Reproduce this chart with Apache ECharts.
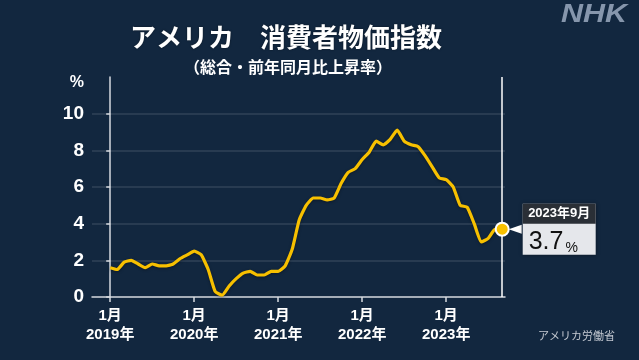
<!DOCTYPE html>
<html>
<head>
<meta charset="utf-8">
<script src="https://cdn.jsdelivr.net/npm/echarts@6/dist/echarts.min.js"></script>
<style>
html,body{margin:0;padding:0;background:#12273f;}
#c{width:639px;height:360px;}
</style>
</head>
<body>
<div id="c"></div>
<script>
// Year labels for January ticks
const years = ['2019年', '2020年', '2021年', '2022年', '2023年'];
const tickMonthLabel = '1月';
// US CPI, all items, year-over-year % (Jan 2019 .. Sep 2023), month index 0..56
const cpi2019 = [1.6, 1.5, 1.9, 2.0, 1.8, 1.6, 1.8, 1.7, 1.7, 1.8, 2.1, 2.3];
const cpi2020 = [2.5, 2.3, 1.5, 0.3, 0.1, 0.6, 1.0, 1.3, 1.4, 1.2, 1.2, 1.4];
const cpi2021 = [1.4, 1.7, 2.6, 4.2, 5.0, 5.4, 5.4, 5.3, 5.4, 6.2, 6.8, 7.0];
const cpi2022 = [7.5, 7.9, 8.5, 8.3, 8.6, 9.1, 8.5, 8.3, 8.2, 7.7, 7.1, 6.5];
const cpi2023 = [6.4, 6.0, 5.0, 4.9, 4.0, 3.0, 3.2, 3.7, 3.7];
const yTicks = [0, 2, 4, 6, 8, 10];
const latestLabel = '2023年9月';

const cpi = [].concat(cpi2019, cpi2020, cpi2021, cpi2022, cpi2023);
const lastIdx = cpi.length - 1;
const lastVal = cpi[lastIdx];

const font = '"Liberation Sans", Arial, "Noto Sans CJK JP", sans-serif';
const jfont = '"Noto Sans CJK JP", sans-serif';
const axisColor = '#d6dae0';

const seriesData = cpi.map((v, i) => {
  if (i === lastIdx) {
    return {
      value: [i, v],
      symbol: 'circle',
      symbolSize: 13,
      itemStyle: { color: '#f7c000', borderColor: '#ffffff', borderWidth: 2 }
    };
  }
  return { value: [i, v], symbol: 'none' };
});

const chart = echarts.init(document.getElementById('c'), null, { renderer: 'canvas' });
chart.setOption({
  backgroundColor: '#12273f',
  animation: false,
  grid: { left: 92, right: 134, top: 77, bottom: 63 },
  xAxis: {
    type: 'value',
    min: -2.6,
    max: 56.4,
    axisLine: { show: true, lineStyle: { color: axisColor, width: 1.5 } },
    axisTick: { show: true, customValues: [0, 12, 24, 36, 48], length: 5, lineStyle: { color: axisColor, width: 1.5 } },
    axisLabel: {
      customValues: [0, 12, 24, 36, 48],
      formatter: v => tickMonthLabel + '\n' + years[Math.round(v / 12)],
      color: '#ffffff', fontSize: 15, fontWeight: 'bold', fontFamily: font,
      lineHeight: 19, margin: 9
    },
    splitLine: { show: false }
  },
  yAxis: {
    type: 'value',
    min: 0,
    max: 12,
    interval: 2,
    axisLine: { show: true, lineStyle: { color: axisColor, width: 1.5 } },
    axisTick: { show: true, customValues: yTicks, length: 4, lineStyle: { color: axisColor, width: 1.5 } },
    axisLabel: {
      formatter: v => (v === 12 ? '{p|%}' : String(v)),
      color: '#ffffff', fontSize: 19, fontWeight: 'bold', fontFamily: font, margin: 8,
      rich: { p: { fontSize: 16, fontWeight: 'bold', color: '#ffffff', fontFamily: font, padding: [12, 0, 0, 0] } }
    },
    splitLine: {
      show: true,
      lineStyle: {
        color: ['rgba(0,0,0,0)', 'rgba(255,255,255,0.13)', 'rgba(255,255,255,0.13)', 'rgba(255,255,255,0.13)', 'rgba(255,255,255,0.13)', 'rgba(255,255,255,0.13)', 'rgba(0,0,0,0)'],
        width: 1.5
      }
    }
  },
  graphic: [
    { type: 'text', left: 130, top: 24, style: { text: 'アメリカ　消費者物価指数', fill: '#ffffff', font: 'bold 26px ' + jfont, textShadowColor: 'rgba(0,0,0,0.5)', textShadowBlur: 2 } },
    { type: 'text', left: 184, top: 59, style: { text: '（総合・前年同月比上昇率）', fill: '#ffffff', font: 'bold 16px ' + jfont } },
    { type: 'text', x: 561, y: 3, scaleX: 1.22, style: { text: 'NHK', fill: '#8696ac', font: 'italic bold 25px ' + font } },
    { type: 'text', left: 538, top: 330, style: { text: 'アメリカ労働省', fill: '#c5cad2', font: '11px ' + jfont } }
  ],
  series: [{
    type: 'line',
    data: seriesData,
    symbol: 'none',
    smooth: 0.15,
    z: 5,
    lineStyle: { color: '#f7c000', width: 3.2, shadowColor: 'rgba(0,0,0,0.35)', shadowBlur: 3, shadowOffsetY: 1 },
    markLine: {
      silent: true,
      symbol: ['none', 'none'],
      label: { show: false },
      lineStyle: { color: '#ffffff', width: 1.5, type: 'solid' },
      data: [{ xAxis: lastIdx }],
      z: 3
    },
    markPoint: {
      silent: true,
      data: [{
        coord: [lastIdx, lastVal],
        symbol: 'triangle',
        symbolRotate: 90,
        symbolSize: [9, 13],
        symbolOffset: [13, 0],
        itemStyle: { color: '#ffffff' },
        label: {
          show: true,
          position: 'right',
          distance: 1,
          formatter: '{h|' + latestLabel + '}\n{v|' + lastVal.toFixed(1) + '}{p|%}',
          backgroundColor: '#e5e7eb',
          shadowColor: 'rgba(0,0,0,0.4)', shadowBlur: 4,
          padding: 0,
          align: 'left',
          rich: {
            h: { width: 73, height: 20, lineHeight: 20, backgroundColor: '#2a2f36', color: '#ffffff', fontSize: 13, fontWeight: 'bold', fontFamily: font, align: 'center' },
            v: { fontSize: 25, color: '#111111', fontFamily: font, lineHeight: 31, padding: [0, 0, 0, 6], verticalAlign: 'bottom' },
            p: { fontSize: 14, color: '#111111', fontFamily: font, lineHeight: 25, padding: [0, 0, 0, 2], verticalAlign: 'bottom' }
          }
        }
      }]
    }
  }]
});
</script>
</body>
</html>
